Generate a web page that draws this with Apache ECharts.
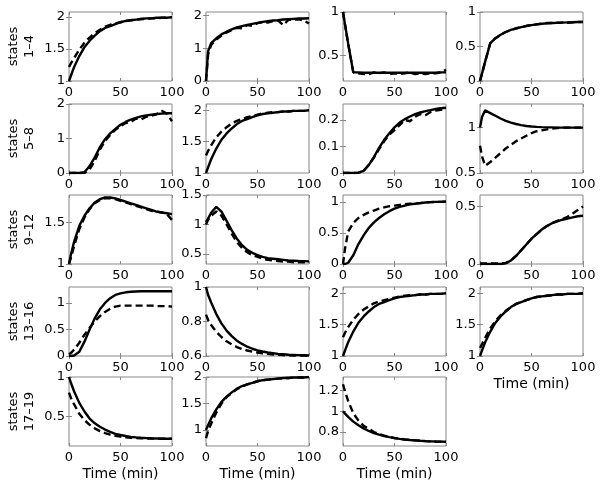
<!DOCTYPE html>
<html><head><meta charset="utf-8">
<script src="https://cdn.jsdelivr.net/npm/echarts@6/dist/echarts.min.js"></script>
<style>html,body{margin:0;padding:0;background:#fff}#c{width:600px;height:488px}</style>
</head><body><div id="c"></div><script>
// time axis (min)
const time = [0,2,5,10,15,20,25,30,35,40,45,50,55,60,65,70,75,80,85,90,95,100];
const xTicks = [0,50,100];
const rowLabels = ['states\n1–4','states\n5–8','states\n9–12','states\n13–16','states\n17–19'];
const xName = 'Time (min)';

// state 1
const solid1  = [1.0,1.09,1.22,1.39,1.53,1.63,1.71,1.78,1.83,1.86,1.89,1.92,1.94,1.95,1.96,1.97,1.98,1.98,1.99,1.99,1.99,2.0];
const dashed1 = [1.22,1.28,1.36,1.49,1.6,1.68,1.75,1.8,1.85,1.88,1.9,1.92,1.94,1.95,1.96,1.97,1.97,1.98,1.98,1.99,1.99,2.0];
// state 2
const solid2  = [0,0.9,1.15,1.3,1.42,1.5,1.57,1.63,1.67,1.71,1.74,1.77,1.8,1.82,1.84,1.85,1.87,1.88,1.89,1.9,1.9,1.91];
const dashed2 = [0,0.8,1.1,1.26,1.38,1.48,1.55,1.62,1.6,1.7,1.68,1.76,1.79,1.78,1.82,1.84,1.7,1.86,1.87,1.88,1.84,1.75];
// state 3
const solid3  = [1,0.854,0.635,0.3,0.3,0.295,0.295,0.295,0.295,0.295,0.295,0.295,0.295,0.295,0.295,0.295,0.295,0.295,0.295,0.295,0.3,0.3];
const dashed3 = [1,0.85,0.63,0.3,0.29,0.28,0.28,0.3,0.29,0.3,0.28,0.29,0.28,0.29,0.3,0.28,0.29,0.28,0.29,0.29,0.3,0.33];
// state 4
const solid4  = [0,0.11,0.28,0.55,0.62,0.67,0.71,0.74,0.76,0.78,0.795,0.81,0.82,0.83,0.835,0.84,0.843,0.846,0.85,0.852,0.855,0.857];
const dashed4 = [0,0.11,0.28,0.55,0.62,0.67,0.71,0.74,0.765,0.78,0.8,0.81,0.82,0.83,0.84,0.84,0.845,0.85,0.845,0.85,0.855,0.855];
// state 5
const solid5  = [0,0,0,0,0.02,0.2,0.45,0.75,0.98,1.15,1.28,1.4,1.48,1.55,1.6,1.64,1.67,1.69,1.71,1.72,1.73,1.73];
const dashed5 = [0,0,0,0,0,0.1,0.35,0.68,0.93,1.1,1.25,1.36,1.45,1.48,1.58,1.55,1.63,1.66,1.7,1.8,1.72,1.5];
// state 6
const solid6  = [1.0,1.09,1.22,1.39,1.53,1.63,1.71,1.78,1.83,1.86,1.89,1.92,1.94,1.95,1.96,1.97,1.98,1.98,1.99,1.99,1.99,2.0];
const dashed6 = [1.28,1.35,1.44,1.57,1.66,1.73,1.79,1.83,1.86,1.89,1.91,1.93,1.95,1.96,1.97,1.97,1.98,1.98,1.99,1.99,1.99,2.0];
// state 7
const solid7  = [0,0,0,0,0.001,0.008,0.03,0.06,0.095,0.125,0.15,0.172,0.19,0.203,0.213,0.222,0.228,0.233,0.237,0.241,0.244,0.246];
const dashed7 = [0,0,0,0,0.001,0.008,0.03,0.058,0.09,0.12,0.145,0.162,0.18,0.2,0.195,0.212,0.222,0.218,0.23,0.235,0.238,0.242];
// state 8
const solid8  = [1.0,1.12,1.19,1.16,1.13,1.1,1.075,1.055,1.04,1.027,1.018,1.012,1.008,1.005,1.003,1.002,1.0,1.0,1.0,1.0,1.0,1.0];
const dashed8 = [0.8,0.68,0.58,0.62,0.67,0.72,0.77,0.81,0.85,0.88,0.91,0.94,0.96,0.97,0.98,0.99,0.995,1.0,1.0,1.0,1.0,1.0];
// state 9
const solid9  = [1.0,1.12,1.27,1.46,1.58,1.67,1.74,1.78,1.8,1.8,1.79,1.77,1.75,1.73,1.71,1.69,1.67,1.65,1.63,1.62,1.61,1.6];
const dashed9 = [1.0,1.08,1.22,1.42,1.56,1.66,1.73,1.77,1.79,1.79,1.78,1.76,1.74,1.72,1.7,1.68,1.66,1.64,1.63,1.62,1.6,1.53];
// state 10
const solid10  = [1.04,1.1,1.2,1.3,1.22,1.06,0.9,0.76,0.65,0.57,0.52,0.48,0.45,0.43,0.42,0.41,0.4,0.39,0.385,0.38,0.378,0.375];
const dashed10 = [1.0,1.08,1.15,1.22,1.15,1.0,0.84,0.7,0.6,0.53,0.48,0.45,0.42,0.4,0.39,0.38,0.37,0.37,0.36,0.36,0.36,0.36];
// state 11
const solid11  = [0,0,0.02,0.14,0.32,0.46,0.58,0.67,0.74,0.8,0.85,0.89,0.92,0.94,0.96,0.97,0.98,0.99,0.995,1.0,1.0,1.005];
const dashed11 = [0,0.25,0.52,0.66,0.74,0.79,0.83,0.86,0.89,0.91,0.93,0.94,0.95,0.96,0.97,0.975,0.98,0.99,0.995,1.0,1.0,1.005];
// state 12
const solid12  = [0,0,0,0,0,0,0.005,0.03,0.07,0.12,0.17,0.22,0.26,0.3,0.33,0.355,0.37,0.385,0.395,0.405,0.415,0.42];
const dashed12 = [0.005,0.005,0.005,0.005,0.005,0.005,0.01,0.03,0.07,0.12,0.17,0.22,0.26,0.3,0.33,0.355,0.375,0.39,0.41,0.44,0.47,0.5];
// state 13
const solid13  = [0,0,0.01,0.08,0.27,0.5,0.71,0.88,1.0,1.09,1.15,1.18,1.2,1.21,1.215,1.22,1.22,1.22,1.22,1.22,1.22,1.22];
const dashed13 = [0.03,0.06,0.12,0.25,0.4,0.53,0.65,0.75,0.83,0.89,0.93,0.95,0.95,0.95,0.95,0.95,0.95,0.95,0.94,0.94,0.94,0.93];
// state 14
const solid14  = [1.0,0.955,0.91,0.843,0.789,0.747,0.715,0.689,0.67,0.654,0.642,0.633,0.626,0.62,0.616,0.612,0.61,0.607,0.606,0.605,0.604,0.603];
const dashed14 = [0.84,0.81,0.78,0.74,0.71,0.685,0.667,0.652,0.641,0.632,0.625,0.62,0.615,0.612,0.609,0.607,0.605,0.604,0.603,0.602,0.602,0.601];
// state 15
const solid15  = [1.0,1.09,1.22,1.39,1.53,1.63,1.71,1.78,1.83,1.86,1.89,1.92,1.94,1.95,1.96,1.97,1.98,1.98,1.99,1.99,1.99,2.0];
const dashed15 = [1.3,1.37,1.46,1.58,1.67,1.74,1.79,1.84,1.87,1.89,1.91,1.93,1.95,1.96,1.97,1.97,1.98,1.98,1.99,1.99,1.99,2.0];
// state 16
const solid16  = [1.0,1.09,1.22,1.39,1.53,1.63,1.71,1.78,1.83,1.86,1.89,1.92,1.94,1.95,1.96,1.97,1.98,1.98,1.99,1.99,1.99,2.0];
const dashed16 = [1.13,1.19,1.29,1.44,1.56,1.65,1.72,1.78,1.83,1.86,1.89,1.92,1.94,1.95,1.96,1.97,1.98,1.98,1.99,1.99,1.99,2.0];
// state 17
const solid17  = [1,0.92,0.815,0.67,0.56,0.47,0.41,0.365,0.33,0.3,0.275,0.26,0.247,0.237,0.23,0.225,0.221,0.218,0.216,0.214,0.213,0.212];
const dashed17 = [0.8,0.73,0.65,0.53,0.45,0.39,0.345,0.31,0.285,0.265,0.25,0.24,0.232,0.226,0.222,0.219,0.217,0.215,0.214,0.213,0.212,0.211];
// state 18
const solid18  = [1.0,1.09,1.22,1.39,1.53,1.63,1.71,1.78,1.83,1.86,1.89,1.92,1.94,1.95,1.96,1.97,1.98,1.98,1.99,1.99,1.99,2.0];
const dashed18 = [0.85,0.98,1.12,1.33,1.5,1.62,1.7,1.77,1.82,1.86,1.89,1.92,1.94,1.95,1.96,1.97,1.98,1.98,1.99,1.99,1.99,2.0];
// state 19
const solid19  = [1.0,0.977,0.946,0.9,0.865,0.835,0.81,0.79,0.774,0.761,0.75,0.741,0.734,0.728,0.723,0.719,0.715,0.712,0.71,0.708,0.707,0.706];
const dashed19 = [1.26,1.19,1.1,0.98,0.91,0.86,0.83,0.8,0.78,0.765,0.752,0.742,0.735,0.728,0.723,0.719,0.715,0.712,0.71,0.708,0.707,0.706];

// y tick labels per panel
const yTicks = [
  [1,1.5,2],[0,1,2],[0.5,1],[0,0.5,1],
  [0,1,2],[1,1.5,2],[0,0.1,0.2],[0.5,1],
  [1,1.5],[0.5,1,1.5],[0,0.5,1],[0,0.5],
  [0,0.5,1],[0.6,0.8,1],[1,1.5,2],[1,1.5,2],
  [0.5,1],[1,1.5,2],[0.8,1,1.2]
];
// y ranges per panel
const yMin = [1,0,0.2,0,  0,1,0,0.5,  1,0.33,0,0,  0,0.6,1,1,  0.12,0.7,0.665];
const yMax = [2.08,2.1,1,1,  2,2.1,0.26,1.26,  1.83,1.5,1.11,0.6,  1.3,1,2.1,2.1,  1,2,1.33];

const solids  = [solid1,solid2,solid3,solid4,solid5,solid6,solid7,solid8,solid9,solid10,solid11,solid12,solid13,solid14,solid15,solid16,solid17,solid18,solid19];
const dasheds = [dashed1,dashed2,dashed3,dashed4,dashed5,dashed6,dashed7,dashed8,dashed9,dashed10,dashed11,dashed12,dashed13,dashed14,dashed15,dashed16,dashed17,dashed18,dashed19];

// layout
const colLeft = [69,206,343,480];
const rowTop = [12,104,195,287,377];
const W = 103, H = 69;
const frame = '#888';
const fontTick = 'DejaVu Sans';

const N = solids.length;
const grid = [], xAxis = [], yAxis = [], series = [];
const fmt = v => String(+(+v).toFixed(3));
for (let i = 0; i < N; i++) {
  const r = Math.floor(i/4), c = i % 4;
  grid.push({left: colLeft[c], top: rowTop[r], width: W, height: H, show: true, borderColor: frame, borderWidth: 1, backgroundColor: '#fff'});
  const showXName = (r === 4) || (r === 3 && c === 3);
  xAxis.push({
    type: 'value', gridIndex: i, min: 0, max: 100, position: 'bottom',
    axisLine: {show: false}, splitLine: {show: false},
    axisTick: {show: true, inside: true, length: 3, lineStyle: {color: frame}, customValues: xTicks},
    axisLabel: {show: true, margin: 5, color: '#000', fontFamily: fontTick, fontSize: 13, customValues: xTicks, formatter: fmt},
    name: showXName ? xName : '', nameLocation: 'middle', nameGap: 21,
    nameTextStyle: {color: '#000', fontFamily: fontTick, fontSize: 14, verticalAlign: 'top'}
  });
  yAxis.push({
    type: 'value', gridIndex: i, min: yMin[i], max: yMax[i], position: 'left',
    axisLine: {show: false}, splitLine: {show: false},
    axisTick: {show: true, inside: true, length: 3, lineStyle: {color: frame}, customValues: yTicks[i]},
    axisLabel: {show: true, margin: 4, color: '#000', fontFamily: fontTick, fontSize: 13, customValues: yTicks[i], formatter: fmt},
    name: c === 0 ? rowLabels[r] : '', nameLocation: 'middle', nameRotate: 90, nameGap: 31,
    nameTextStyle: {color: '#000', fontFamily: 'DejaVu Sans', fontSize: 13, lineHeight: 16, align: 'center'}
  });
}
// mirrored ticks (top/right), MATLAB box style
for (let i = 0; i < N; i++) {
  xAxis.push({type: 'value', gridIndex: i, min: 0, max: 100, position: 'top',
    axisLine: {show: false}, splitLine: {show: false}, axisLabel: {show: false},
    axisTick: {show: true, inside: true, length: 3, lineStyle: {color: frame}, customValues: xTicks}});
  yAxis.push({type: 'value', gridIndex: i, min: yMin[i], max: yMax[i], position: 'right',
    axisLine: {show: false}, splitLine: {show: false}, axisLabel: {show: false},
    axisTick: {show: true, inside: true, length: 3, lineStyle: {color: frame}, customValues: yTicks[i]}});
}
for (let i = 0; i < N; i++) {
  series.push({type: 'line', xAxisIndex: i, yAxisIndex: i, showSymbol: false, symbol: 'none', smooth: false,
    data: time.map((t, k) => [t, dasheds[i][k]]), lineStyle: {color: '#000', width: 2.4, type: [7, 4]}, z: 2});
  series.push({type: 'line', xAxisIndex: i, yAxisIndex: i, showSymbol: false, symbol: 'none', smooth: false,
    data: time.map((t, k) => [t, solids[i][k]]), lineStyle: {color: '#000', width: 2.4}, z: 3});
}

const chart = echarts.init(document.getElementById('c'), null, {renderer: 'canvas'});
chart.setOption({animation: false, backgroundColor: '#fff', grid, xAxis, yAxis, series});
</script></body></html>
